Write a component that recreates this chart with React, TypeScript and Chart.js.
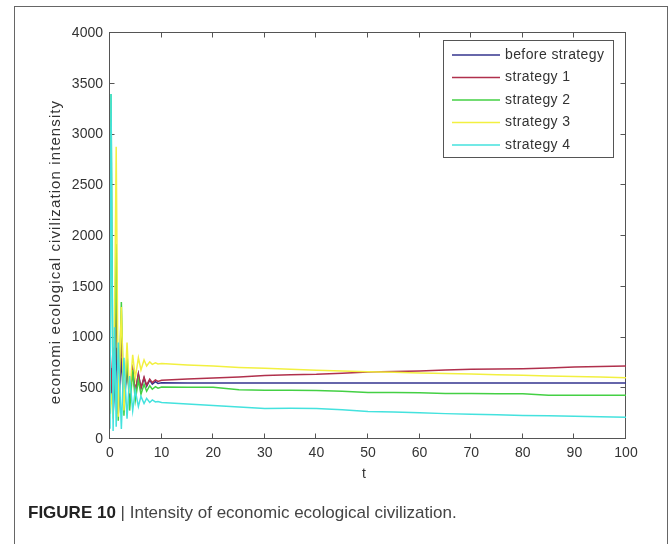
import React, { useEffect, useRef } from "react";
import { Chart, registerables } from "chart.js";

Chart.register(...registerables);

// time points
const T = [
  0, 0.2, 0.6, 0.9, 1.2, 1.6, 2.2, 2.7, 3.3, 3.8, 4.4, 4.9, 5.5, 6, 6.6, 7.1, 7.7, 8.2, 8.8, 9.3,
  10, 15, 20, 25, 30, 35, 40, 45, 50, 55, 60, 65, 70, 75, 80, 85, 90, 95, 100,
];

const BEFORE = [
  300, 700, 250, 500, 900, 250, 800, 300, 720, 420, 680, 460, 640, 500, 600, 520, 580, 540, 565, 548,
  555, 552, 552, 552, 552, 552, 552, 552, 552, 552, 552, 552, 552, 552, 552, 552, 552, 552, 552,
];
const S1 = [
  300, 500, 900, 600, 1450, 300, 1000, 350, 760, 430, 680, 470, 640, 500, 610, 530, 590, 555, 582, 568,
  578, 590, 600, 612, 625, 633, 637, 648, 660, 665, 670, 680, 686, 690, 693, 700, 709, 714, 719,
];
const S2 = [
  250, 3400, 280, 900, 1920, 180, 1350, 230, 850, 280, 680, 380, 580, 440, 540, 470, 525, 490, 515, 500,
  512, 510, 510, 485, 480, 480, 479, 470, 459, 457, 455, 449, 449, 447, 445, 432, 430, 430, 430,
];
const S3 = [
  300, 450, 200, 1200, 2880, 220, 1300, 280, 950, 450, 830, 600, 800, 680, 780, 720, 760, 735, 750, 740,
  743, 728, 718, 705, 696, 688, 677, 670, 663, 657, 650, 645, 640, 633, 627, 620, 615, 610, 604,
];
const S4 = [
  100, 3400, 80, 1100, 120, 950, 100, 800, 200, 620, 280, 480, 320, 420, 350, 400, 360, 385, 365, 370,
  360, 345, 330, 315, 300, 302, 300, 288, 272, 265, 258, 250, 245, 238, 232, 228, 225, 220, 215,
];

const LABELS = ["before strategy", "strategy 1", "strategy 2", "strategy 3", "strategy 4"];
const COLORS = ["#34348e", "#b0304c", "#44d044", "#f2f040", "#44e2de"];
const VALUES = [BEFORE, S1, S2, S3, S4];

const X_TICKS = [0, 10, 20, 30, 40, 50, 60, 70, 80, 90, 100];
const Y_TICKS = [0, 500, 1000, 1500, 2000, 2500, 3000, 3500, 4000];

const Y_TITLE = "economi ecological civilization intensity";
const X_TITLE = "t";

const FONT = '"Liberation Sans", Arial, Helvetica, sans-serif';

const boxPlugin = {
  id: "matlabBox",
  beforeDatasetsDraw(chart: any) {
    const { ctx, chartArea } = chart;
    const { left, right, top, bottom } = chartArea;
    const xs = chart.scales.x;
    const ys = chart.scales.y;
    ctx.save();
    ctx.strokeStyle = "#555";
    ctx.lineWidth = 1;
    ctx.strokeRect(left - 0.5, top - 0.5, right - left, bottom - top);
    ctx.beginPath();
    X_TICKS.forEach((v) => {
      const px = Math.round(xs.getPixelForValue(v)) - 0.5;
      ctx.moveTo(px, bottom - 0.5);
      ctx.lineTo(px, bottom - 5.5);
      ctx.moveTo(px, top - 0.5);
      ctx.lineTo(px, top + 4.5);
    });
    Y_TICKS.forEach((v) => {
      const py = Math.round(ys.getPixelForValue(v)) - 0.5;
      ctx.moveTo(left - 0.5, py);
      ctx.lineTo(left + 4.5, py);
      ctx.moveTo(right - 0.5, py);
      ctx.lineTo(right - 5.5, py);
    });
    ctx.stroke();
    ctx.restore();
  },
  afterDraw(chart: any) {
    const { ctx } = chart;
    ctx.save();
    ctx.fillStyle = "#333";
    ctx.textAlign = "center";
    ctx.textBaseline = "middle";
    ctx.font = `14px ${FONT}`;
    ctx.fillText(X_TITLE, 364, 474);
    ctx.translate(56, 252);
    ctx.rotate(-Math.PI / 2);
    ctx.font = `15px ${FONT}`;
    (ctx as any).letterSpacing = "1.1px";
    ctx.fillText(Y_TITLE, 0, 0);
    ctx.restore();
  },
};

const legendPlugin = {
  id: "matlabLegend",
  afterDatasetsDraw(chart: any) {
    const { ctx } = chart;
    const x0 = 443.5, y0 = 40.5, w = 170, h = 117;
    ctx.save();
    ctx.fillStyle = "#fff";
    ctx.fillRect(x0, y0, w, h);
    ctx.strokeStyle = "#555";
    ctx.lineWidth = 1;
    ctx.strokeRect(x0, y0, w, h);
    ctx.font = `14px ${FONT}`;
    (ctx as any).letterSpacing = "0.4px";
    ctx.textBaseline = "middle";
    ctx.textAlign = "left";
    chart.data.datasets.forEach((ds: any, i: number) => {
      const y = 55 + i * 22.5;
      ctx.strokeStyle = ds.borderColor;
      ctx.lineWidth = 1.5;
      ctx.beginPath();
      ctx.moveTo(452, y);
      ctx.lineTo(500, y);
      ctx.stroke();
      ctx.fillStyle = "#333";
      ctx.fillText(ds.label, 505, y);
    });
    ctx.restore();
  },
};

export default function App() {
  const ref = useRef<HTMLCanvasElement>(null);

  useEffect(() => {
    const chart = new Chart(ref.current as HTMLCanvasElement, {
      type: "line",
      data: {
        datasets: VALUES.map((vals, i) => ({
          label: LABELS[i],
          data: T.map((t, j) => ({ x: t, y: vals[j] })),
          borderColor: COLORS[i],
          backgroundColor: COLORS[i],
          borderWidth: 1.5,
          pointRadius: 0,
          tension: 0,
          fill: false,
          order: VALUES.length - 1 - i,
        })),
      },
      options: {
        responsive: false,
        animation: false,
        events: [],
        layout: { padding: { left: 0, right: 46, top: 33, bottom: 0 } },
        plugins: {
          legend: { display: false },
          tooltip: { enabled: false },
          title: { display: false },
        },
        scales: {
          x: {
            type: "linear",
            min: 0,
            max: 100,
            grid: { display: false, drawTicks: false },
            border: { display: false },
            ticks: {
              stepSize: 10,
              autoSkip: false,
              maxRotation: 0,
              padding: 6,
              color: "#333",
              font: { family: FONT, size: 14 },
              callback: (v: any) => String(v),
            },
            afterFit: (s: any) => {
              s.height = 105;
            },
          },
          y: {
            type: "linear",
            min: 0,
            max: 4000,
            grid: { display: false, drawTicks: false },
            border: { display: false },
            ticks: {
              stepSize: 500,
              autoSkip: false,
              padding: 7,
              color: "#333",
              font: { family: FONT, size: 14 },
              callback: (v: any) => String(v),
            },
            afterFit: (s: any) => {
              s.width = 110;
            },
          },
        },
      },
      plugins: [boxPlugin, legendPlugin],
    });
    return () => chart.destroy();
  }, []);

  return (
    <div
      style={{
        position: "absolute",
        left: 0,
        top: 0,
        width: 672,
        height: 544,
        overflow: "hidden",
        background: "#fff",
      }}
    >
      <canvas ref={ref} width={672} height={544} style={{ position: "absolute", left: 0, top: 0 }} />
      <div
        style={{
          position: "absolute",
          left: 14,
          top: 6,
          width: 652,
          height: 600,
          border: "1px solid #666",
          borderBottom: "none",
          pointerEvents: "none",
        }}
      />
      <div
        style={{
          position: "absolute",
          left: 28,
          top: 504,
          fontFamily: FONT,
          fontSize: 17,
          lineHeight: "18px",
          color: "#444",
          whiteSpace: "nowrap",
        }}
      >
        <span style={{ fontWeight: "bold", color: "#222" }}>FIGURE 10</span>
        <span> | Intensity of economic ecological civilization.</span>
      </div>
    </div>
  );
}
